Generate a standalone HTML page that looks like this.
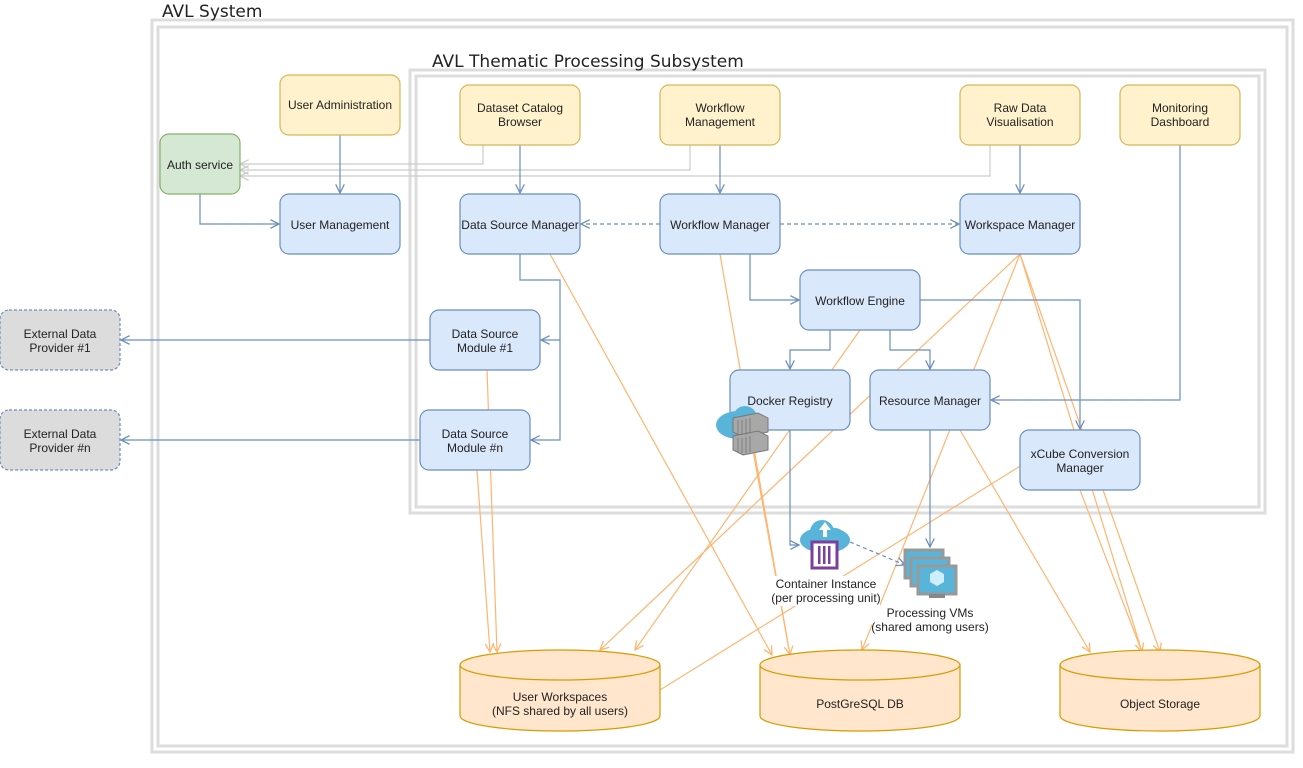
<!DOCTYPE html>
<html><head><meta charset="utf-8"><style>
body{margin:0;background:#fff;width:1303px;height:763px;overflow:hidden}
svg{font-family:"Liberation Sans",Arial,sans-serif}
.t{font-family:"DejaVu Sans","Liberation Sans",sans-serif}
</style></head><body>
<svg width="1303" height="763" viewBox="0 0 1303 763" xmlns="http://www.w3.org/2000/svg">
<defs>
<marker id="ab" viewBox="0 0 10 10" refX="9" refY="5" markerWidth="9" markerHeight="9" orient="auto"><path d="M1,1 L9,5 L1,9" fill="none" stroke="#6c8ebf" stroke-width="1.2"/></marker>
<marker id="ag" viewBox="0 0 10 10" refX="9" refY="5" markerWidth="9" markerHeight="9" orient="auto"><path d="M1,1 L9,5 L1,9" fill="none" stroke="#ccc" stroke-width="1.2"/></marker>
<marker id="ao" viewBox="0 0 10 10" refX="9" refY="5" markerWidth="9" markerHeight="9" orient="auto"><path d="M1,1 L9,5 L1,9" fill="none" stroke="#ffb570" stroke-width="1.2"/></marker>
</defs>
<rect x="152" y="20" width="1141" height="732" fill="none" stroke="#ddd" stroke-width="3"/>
<rect x="158" y="27" width="1129" height="719" fill="none" stroke="#ddd" stroke-width="3"/>
<text class="t" x="162" y="17" font-size="17" fill="#222">AVL System</text>
<rect x="410" y="70" width="855" height="443" fill="none" stroke="#ddd" stroke-width="3"/>
<rect x="416" y="76" width="843" height="431" fill="none" stroke="#ddd" stroke-width="3"/>
<text class="t" x="432" y="67" font-size="17" fill="#222">AVL Thematic Processing Subsystem</text>

<g fill="none" stroke="#ccc" stroke-width="1.2">
<path d="M483,145 V164 H240" marker-end="url(#ag)"/>
<path d="M690,145 V170 H240" marker-end="url(#ag)"/>
<path d="M990,145 V176 H240" marker-end="url(#ag)"/>
</g>

<g fill="none" stroke="#ffb570" stroke-width="1.2">
<path d="M487,370 L497,652" marker-end="url(#ao)"/>
<path d="M477,470 L490,652" marker-end="url(#ao)"/>
<path d="M550,254 L772,655" marker-end="url(#ao)"/>
<path d="M720,254 L790,655" marker-end="url(#ao)"/>
<path d="M752,445 L790,655"/>
<path d="M1020,254 L600,650" marker-end="url(#ao)"/>
<path d="M1020,254 L862,650" marker-end="url(#ao)"/>
<path d="M1020,254 L1142,652" marker-end="url(#ao)"/>
<path d="M1020,254 L1160,652" marker-end="url(#ao)"/>
<path d="M860,330 L635,650" marker-end="url(#ao)"/>
<path d="M960,430 L1090,652" marker-end="url(#ao)"/>
<path d="M1080,490 L1142,652"/>
<path d="M660,690 L1030,460" marker-end="url(#ao)"/>
</g>

<g fill="none" stroke="#6c8ebf" stroke-width="1.2">
<path d="M340,135 V193" marker-end="url(#ab)"/>
<path d="M200,194 V224 H279" marker-end="url(#ab)"/>
<path d="M520,145 V193" marker-end="url(#ab)"/>
<path d="M720,145 V193" marker-end="url(#ab)"/>
<path d="M1020,145 V193" marker-end="url(#ab)"/>
<path d="M1180,145 V400 H991" marker-end="url(#ab)"/>
<path d="M660,224 H581" stroke-dasharray="4 3" marker-end="url(#ab)"/>
<path d="M780,224 H959" stroke-dasharray="4 3" marker-end="url(#ab)"/>
<path d="M750,254 V300 H799" marker-end="url(#ab)"/>
<path d="M520,254 V280 H560 V340 H541" marker-end="url(#ab)"/>
<path d="M560,340 V440 H531" marker-end="url(#ab)"/>
<path d="M430,340 H121" marker-end="url(#ab)"/>
<path d="M420,440 H121" marker-end="url(#ab)"/>
<path d="M830,330 V350 H790 V369" marker-end="url(#ab)"/>
<path d="M890,330 V350 H930 V369" marker-end="url(#ab)"/>
<path d="M920,300 H1080 V429" marker-end="url(#ab)"/>
<path d="M790,430 V545 H799" marker-end="url(#ab)"/>
<path d="M930,430 V547" marker-end="url(#ab)"/>
<path d="M850,542 L905,565" stroke-dasharray="4 3" marker-end="url(#ab)"/>
</g>

<g font-size="12" fill="#222" text-anchor="middle" stroke-width="1.2">
<rect x="280" y="75" width="120" height="60" rx="9" fill="#fff2cc" stroke="#d6b656"/><text x="340" y="109">User Administration</text>
<rect x="160" y="134" width="80" height="60" rx="9" fill="#d5e8d4" stroke="#82b366"/><text x="200" y="169">Auth service</text>
<rect x="280" y="194" width="120" height="60" rx="9" fill="#dae8fc" stroke="#6c8ebf"/><text x="340" y="229">User Management</text>
<rect x="460" y="85" width="120" height="60" rx="9" fill="#fff2cc" stroke="#d6b656"/><text x="520" y="112">Dataset Catalog</text><text x="520" y="126">Browser</text>
<rect x="660" y="85" width="120" height="60" rx="9" fill="#fff2cc" stroke="#d6b656"/><text x="720" y="112">Workflow</text><text x="720" y="126">Management</text>
<rect x="960" y="85" width="120" height="60" rx="9" fill="#fff2cc" stroke="#d6b656"/><text x="1020" y="112">Raw Data</text><text x="1020" y="126">Visualisation</text>
<rect x="1120" y="85" width="120" height="60" rx="9" fill="#fff2cc" stroke="#d6b656"/><text x="1180" y="112">Monitoring</text><text x="1180" y="126">Dashboard</text>
<rect x="460" y="194" width="120" height="60" rx="9" fill="#dae8fc" stroke="#6c8ebf"/><text x="520" y="229">Data Source Manager</text>
<rect x="660" y="194" width="120" height="60" rx="9" fill="#dae8fc" stroke="#6c8ebf"/><text x="720" y="229">Workflow Manager</text>
<rect x="960" y="194" width="120" height="60" rx="9" fill="#dae8fc" stroke="#6c8ebf"/><text x="1020" y="229">Workspace Manager</text>
<rect x="800" y="270" width="120" height="60" rx="9" fill="#dae8fc" stroke="#6c8ebf"/><text x="860" y="305">Workflow Engine</text>
<rect x="430" y="310" width="110" height="60" rx="9" fill="#dae8fc" stroke="#6c8ebf"/><text x="485" y="338">Data Source</text><text x="485" y="352">Module #1</text>
<rect x="420" y="410" width="110" height="60" rx="9" fill="#dae8fc" stroke="#6c8ebf"/><text x="475" y="438">Data Source</text><text x="475" y="452">Module #n</text>
<rect x="730" y="370" width="120" height="60" rx="9" fill="#dae8fc" stroke="#6c8ebf"/><text x="790" y="405">Docker Registry</text>
<rect x="870" y="370" width="120" height="60" rx="9" fill="#dae8fc" stroke="#6c8ebf"/><text x="930" y="405">Resource Manager</text>
<rect x="1020" y="430" width="120" height="60" rx="9" fill="#dae8fc" stroke="#6c8ebf"/><text x="1080" y="458">xCube Conversion</text><text x="1080" y="472">Manager</text>
<rect x="0" y="310" width="120" height="60" rx="9" fill="#dcdcdc" stroke="#6c8ebf" stroke-dasharray="3 2"/><text x="60" y="338">External Data</text><text x="60" y="352">Provider #1</text>
<rect x="0" y="410" width="120" height="60" rx="9" fill="#dcdcdc" stroke="#6c8ebf" stroke-dasharray="3 2"/><text x="60" y="438">External Data</text><text x="60" y="452">Provider #n</text>

<g fill="#ffe6cc" stroke="#d79b00">
<path d="M460,665 V716 A100,15 0 0 0 660,716 V665"/><ellipse cx="560" cy="665" rx="100" ry="15"/>
<path d="M760,665 V716 A100,15 0 0 0 960,716 V665"/><ellipse cx="860" cy="665" rx="100" ry="15"/>
<path d="M1060,665 V716 A100,15 0 0 0 1260,716 V665"/><ellipse cx="1160" cy="665" rx="100" ry="15"/>
</g>
<text x="560" y="701">User Workspaces</text><text x="560" y="715">(NFS shared by all users)</text>
<text x="860" y="708">PostGreSQL DB</text>
<text x="1160" y="708">Object Storage</text>
</g>

<g>
<ellipse cx="738" cy="425" rx="22" ry="14" fill="#59b4d9"/><circle cx="745" cy="418" r="12" fill="#59b4d9"/>
<path d="M733,418 L758,413 L768,418 V432 L743,437 L733,432 Z" fill="#a8a8a8" stroke="#777"/>
<path d="M733,436 L758,431 L768,436 V450 L743,455 L733,450 Z" fill="#a8a8a8" stroke="#777"/>
<g stroke="#777" stroke-width="0.8"><path d="M738,420 V434 M742,420 V435 M746,419 V435 M750,418 V434 M738,438 V452 M742,438 V453 M746,437 V453 M750,436 V452"/></g>
</g>
<g>
<ellipse cx="825" cy="540" rx="25" ry="13" fill="#59b4d9"/><circle cx="822" cy="532" r="12" fill="#59b4d9"/><circle cx="835" cy="538" r="10" fill="#59b4d9"/>
<path d="M825,522 L819,530 H823 V537 H827 V530 H831 Z" fill="#fff"/>
<rect x="812" y="542" width="25" height="26" fill="#fff" stroke="#7b3f9d" stroke-width="3"/>
<rect x="818" y="546" width="2.5" height="18" fill="#7b3f9d"/><rect x="823" y="546" width="2.5" height="18" fill="#7b3f9d"/><rect x="828" y="546" width="2.5" height="18" fill="#7b3f9d"/>
</g>
<rect x="772" y="576" width="108" height="30" fill="#fff"/>
<text x="826" y="588" font-size="12" text-anchor="middle" fill="#222">Container Instance</text>
<text x="826" y="602" font-size="12" text-anchor="middle" fill="#222">(per processing unit)</text>
<g>
<rect x="905" y="550" width="38" height="28" fill="#59b4d9" stroke="#999" stroke-width="3"/>
<rect x="911" y="558" width="38" height="28" fill="#59b4d9" stroke="#999" stroke-width="3"/>
<rect x="918" y="566" width="38" height="28" fill="#59b4d9" stroke="#999" stroke-width="3"/>
<rect x="929" y="594" width="16" height="4" fill="#888"/>
<path d="M937,570 L944,574 V582 L937,586 L930,582 V574 Z" fill="#cfeefc"/>
</g>
<rect x="872" y="606" width="116" height="30" fill="#fff"/>
<text x="930" y="617" font-size="12" text-anchor="middle" fill="#222">Processing VMs</text>
<text x="930" y="631" font-size="12" text-anchor="middle" fill="#222">(shared among users)</text>
</svg>
</body></html>
